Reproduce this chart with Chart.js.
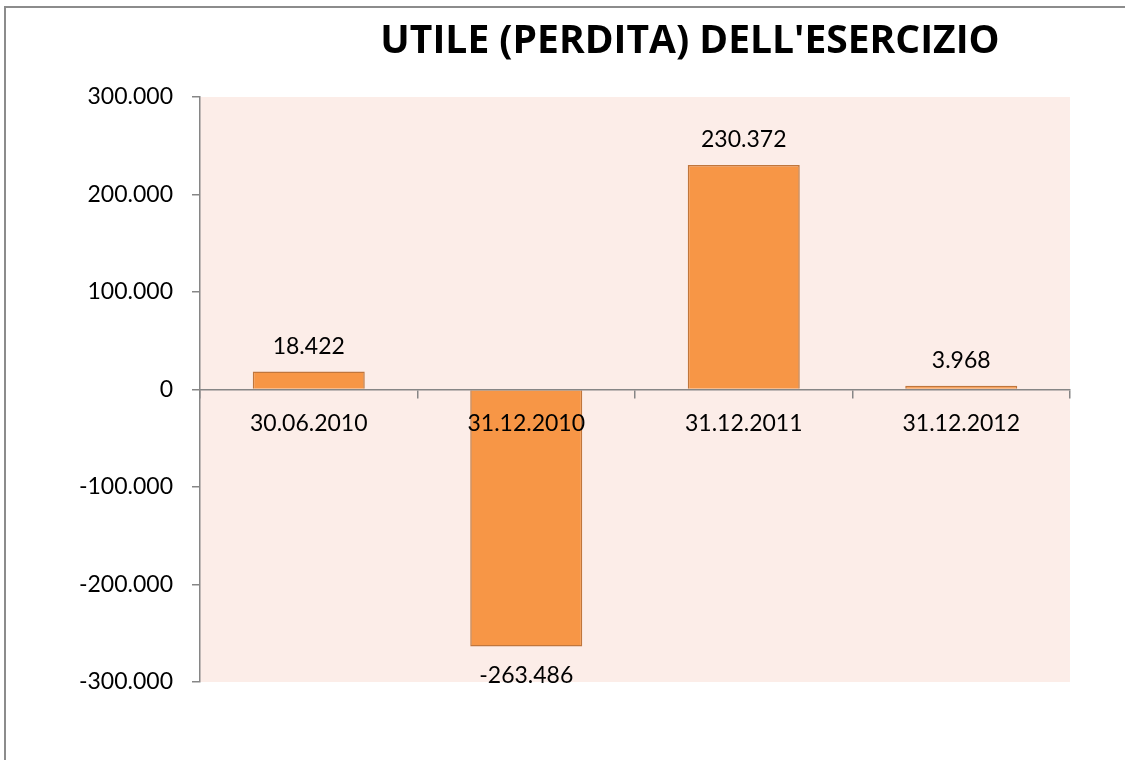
<!DOCTYPE html>
<html>
<head>
<meta charset="utf-8">
<title>Utile (perdita) dell'esercizio</title>
<script src="https://cdn.jsdelivr.net/npm/chart.js@4"></script>
<style>
    body { margin: 0; background: #fff; }
    #wrap { position: relative; width: 1125px; height: 760px; }
</style>
</head>
<body>
<div id="wrap"><canvas id="utile-chart" width="1125" height="760"></canvas></div>
<script>
const chartTitle = "UTILE (PERDITA) DELL'ESERCIZIO";
const periods = ['30.06.2010', '31.12.2010', '31.12.2011', '31.12.2012'];
const utile = [18422, -263486, 230372, 3968];
const yMin = -300000;
const yMax = 300000;
const yStep = 100000;

const axisGray = '#868686';
const fontName = 'Lato, "Open Sans", sans-serif';

// 300000 -> "300.000", -263486 -> "-263.486"
function formatIt(v) {
    const s = Math.abs(v).toString().replace(/\B(?=(\d{3})+(?!\d))/g, '.');
    return (v < 0 ? '-' : '') + s;
}

const plotBackground = {
    id: 'plotBackground',
    beforeDraw(chart) {
        const { ctx, chartArea } = chart;
        ctx.save();
        ctx.fillStyle = 'rgb(252,237,232)';
        ctx.fillRect(chartArea.left, chartArea.top, chartArea.right - chartArea.left, chartArea.bottom - chartArea.top);
        // outer frame (only left and top edges are visible)
        ctx.strokeStyle = '#8c8c8c';
        ctx.lineWidth = 2;
        ctx.beginPath();
        ctx.moveTo(5, 760);
        ctx.lineTo(5, 7);
        ctx.lineTo(1125, 7);
        ctx.stroke();
        // title
        ctx.fillStyle = '#000';
        ctx.font = 'bold 39px "Open Sans", Lato, sans-serif';
        ctx.textAlign = 'center';
        ctx.textBaseline = 'alphabetic';
        ctx.fillText(chartTitle, 690, 53);
        ctx.restore();
    }
};

const barLabels = {
    id: 'barLabels',
    afterDatasetsDraw(chart) {
        const ctx = chart.ctx;
        const meta = chart.getDatasetMeta(0);
        ctx.save();
        ctx.fillStyle = '#000';
        ctx.font = '23px ' + fontName;
        ctx.textAlign = 'center';
        ctx.textBaseline = 'alphabetic';
        meta.data.forEach((bar, i) => {
            const v = utile[i];
            const y = v >= 0 ? bar.y - 18 : bar.y + 37;
            ctx.fillText(formatIt(v), bar.x, y);
        });
        ctx.restore();
    }
};

const ctx = document.getElementById('utile-chart').getContext('2d');
new Chart(ctx, {
    type: 'bar',
    data: {
        labels: periods,
        datasets: [{
            label: 'Utile (perdita)',
            data: utile,
            backgroundColor: '#F79646',
            borderColor: '#C0763C',
            borderWidth: 1.5,
            barPercentage: 0.515,
            categoryPercentage: 1
        }]
    },
    options: {
        responsive: false,
        animation: false,
        layout: {
            padding: { top: 97, right: 55, bottom: 78, left: 0 }
        },
        plugins: {
            legend: { display: false },
            tooltip: { enabled: false },
            title: { display: false }
        },
        scales: {
            x: {
                position: { y: 0 },
                afterFit: s => { s.height = 0; },
                grid: {
                    offset: true,
                    drawOnChartArea: false,
                    drawTicks: true,
                    tickLength: 8,
                    color: axisGray,
                    lineWidth: 1.5
                },
                border: { display: true, color: axisGray, width: 1.5, z: 1 },
                ticks: {
                    z: 1,
                    color: '#000',
                    padding: 12,
                    maxRotation: 0,
                    font: { family: fontName, size: 23 }
                }
            },
            y: {
                min: yMin,
                max: yMax,
                afterFit: s => { s.width = 200; },
                grid: {
                    drawOnChartArea: false,
                    drawTicks: true,
                    tickLength: 8,
                    color: axisGray,
                    lineWidth: 1.5
                },
                border: { display: true, color: axisGray, width: 1.5 },
                ticks: {
                    stepSize: yStep,
                    color: '#000',
                    padding: 19,
                    font: { family: fontName, size: 23 },
                    callback: v => formatIt(v)
                }
            }
        }
    },
    plugins: [plotBackground, barLabels]
});
</script>
</body>
</html>
